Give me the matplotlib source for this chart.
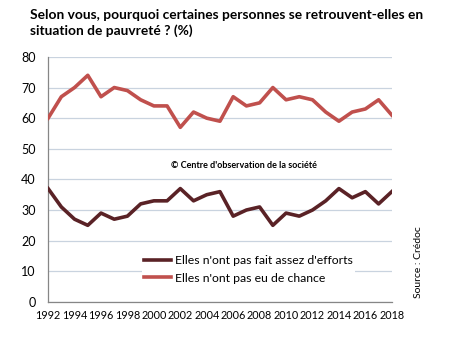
import matplotlib.pyplot as plt
import numpy as np

years = list(range(1992, 2019))
efforts = [37, 31, 27, 25, 29, 27, 28, 32, 33, 33, 37, 33, 35, 36,
           28, 30, 31, 25, 29, 28, 30, 33, 37, 34, 36, 32, 36]
chance = [60, 67, 70, 74, 67, 70, 69, 66, 64, 64, 57, 62, 60, 59,
          67, 64, 65, 70, 66, 67, 66, 62, 59, 62, 63, 66, 61]
labels = ["Elles n'ont pas fait assez d'efforts", "Elles n'ont pas eu de chance"]
title = "Selon vous, pourquoi certaines personnes se retrouvent-elles en\nsituation de pauvreté ? (%)"

plt.rcParams['font.family'] = ['Lato', 'DejaVu Sans']

fig = plt.figure(figsize=(4.54, 3.45), dpi=100)
ax = fig.add_axes([0.106, 0.125, 0.757, 0.71])

ax.plot(years, efforts, color='#5a2226', lw=2.6, label=labels[0], zorder=3)
ax.plot(years, chance, color='#c0504d', lw=2.6, label=labels[1], zorder=3)

ax.set_xlim(1992, 2018)
ax.set_ylim(0, 80)
ax.set_xticks(years[::2])
ax.set_yticks(range(0, 81, 10))
ax.tick_params(length=0, labelsize=7.8)
ax.tick_params(axis='x', pad=6)
ax.tick_params(axis='y', pad=9, labelsize=9)
ax.grid(axis='y', color='#c9d3df', lw=0.9, zorder=0)
ax.set_axisbelow(True)
for s in ['top', 'right']:
    ax.spines[s].set_visible(False)
for s in ['left', 'bottom']:
    ax.spines[s].set_color('#868686')
    ax.spines[s].set_linewidth(0.9)

leg = ax.legend(loc='lower left', bbox_to_anchor=(0.255, 0.04), frameon=True,
                fontsize=8.8, handlelength=2.2, handletextpad=0.3,
                labelspacing=0.55, borderpad=0.2)
leg.get_frame().set_edgecolor('none')
leg.get_frame().set_facecolor('white')
leg.get_frame().set_alpha(1)

ax.text(0.57, 0.555, "© Centre d'observation de la société", transform=ax.transAxes,
        ha='center', va='center', fontsize=6.5, fontweight='bold')

fig.text(0.066, 0.975, title, ha='left', va='top', fontsize=9.9, fontweight='bold',
         linespacing=1.35)
fig.text(0.922, 0.241, "Source : Crédoc", rotation=90, ha='center', va='center',
         fontsize=7.5)

fig.savefig('out.png', dpi=100)
